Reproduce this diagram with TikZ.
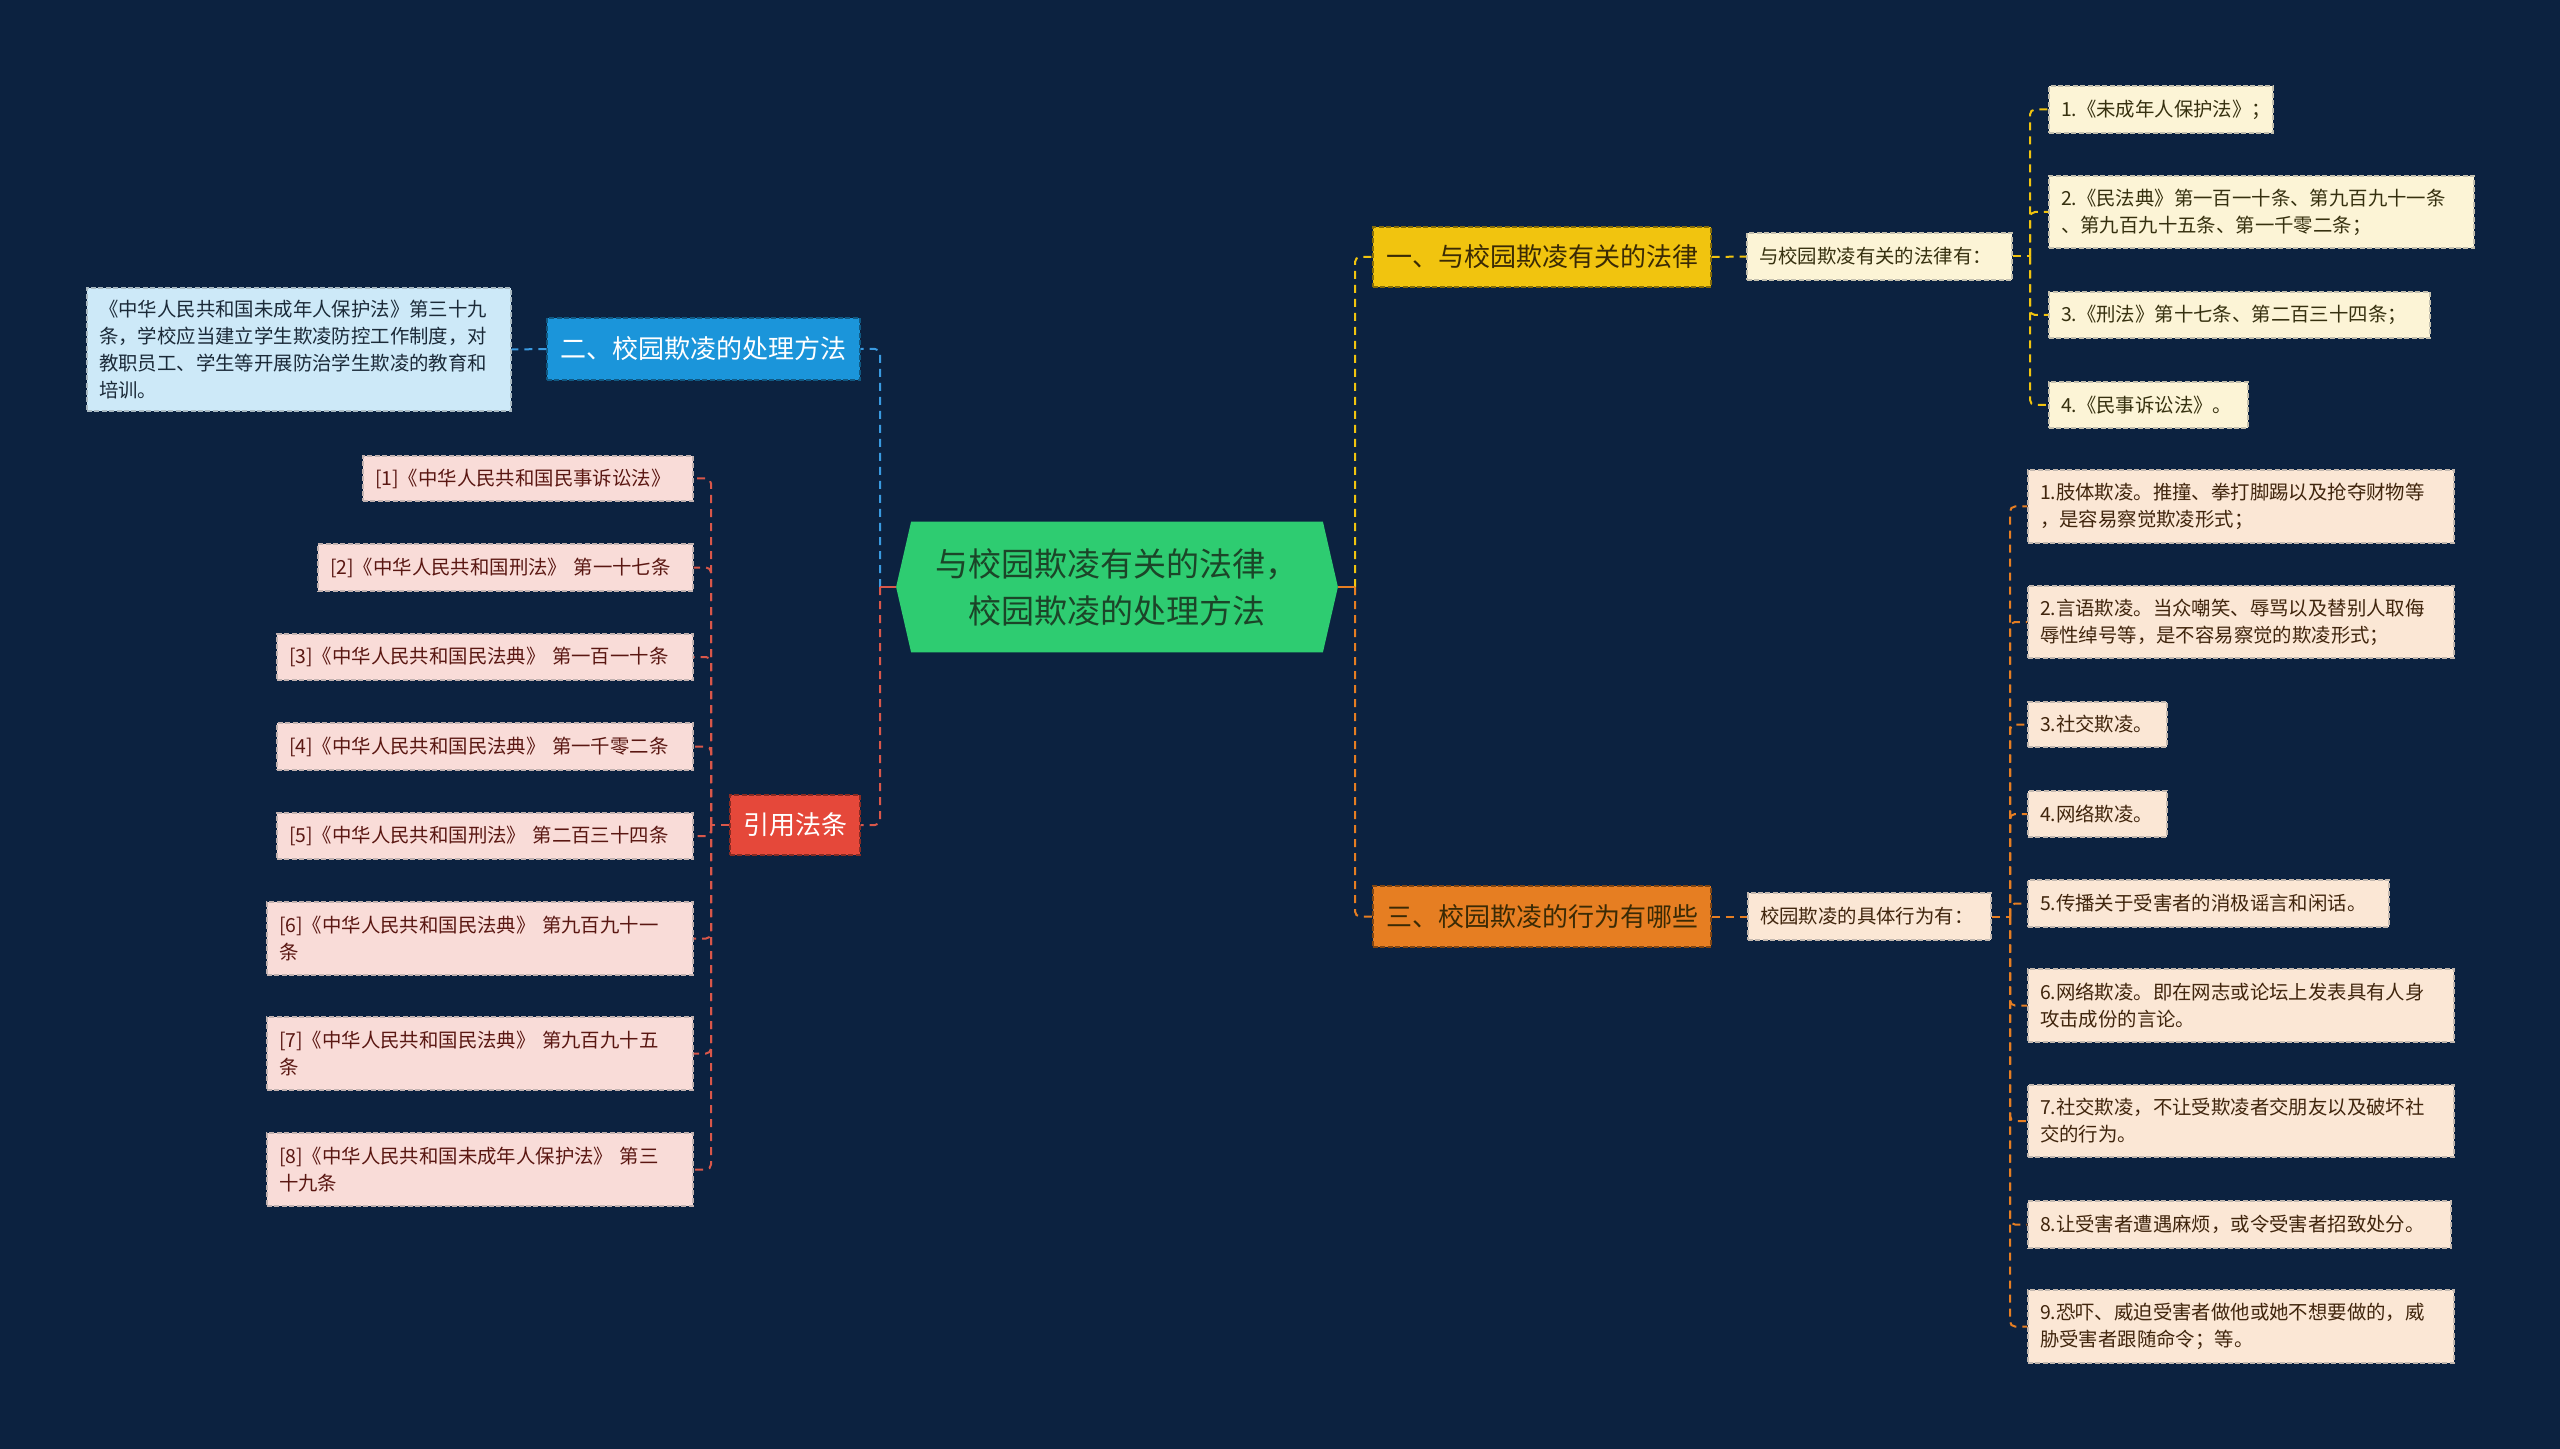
\documentclass[tikz,border=0pt]{standalone}
\usepackage{fontspec}
\setmainfont{Noto Sans CJK SC}
\usetikzlibrary{backgrounds,calc}
\definecolor{bg}{HTML}{0C2240}
\definecolor{rootgreen}{HTML}{2ECC71}
\definecolor{roottext}{HTML}{1B4528}
\definecolor{blueone}{HTML}{1B95DA}
\definecolor{blueleaf}{HTML}{CDE9F8}
\definecolor{bluelinkc}{HTML}{3A9AE0}
\definecolor{redone}{HTML}{E5483A}
\definecolor{redleaf}{HTML}{F9DCD8}
\definecolor{redlinkc}{HTML}{D9574A}
\definecolor{redtext}{HTML}{5A1712}
\definecolor{yellowone}{HTML}{F1C40F}
\definecolor{yellowleaf}{HTML}{FCF4D6}
\definecolor{yellowlinkc}{HTML}{F1C40F}
\definecolor{yellowtext}{HTML}{36300F}
\definecolor{orangeone}{HTML}{E67E22}
\definecolor{orangeleaf}{HTML}{FBE7D5}
\definecolor{orangelinkc}{HTML}{E67E22}
\definecolor{orangetext}{HTML}{40250D}
\definecolor{darktext}{HTML}{3A2A05}
\definecolor{desctext}{HTML}{1B2A38}
\begin{document}
\begin{tikzpicture}[x=0.5pt,y=-0.5pt,
  boxbase/.style={rectangle, inner xsep=6pt, inner ysep=0pt,
    dash pattern=on 2.5pt off 1.2pt, line width=0.6pt},
  leaf/.style={boxbase, align=left, font=\fontsize{9.7}{13.5}\selectfont},
  yleaf/.style={leaf, fill=yellowleaf, draw=yellowleaf!55!gray, text=yellowtext},
  oleaf/.style={leaf, fill=orangeleaf, draw=orangeleaf!55!gray, text=orangetext},
  rleaf/.style={leaf, fill=redleaf, draw=redleaf!55!gray, text=redtext},
  bleaf/.style={leaf, fill=blueleaf, draw=blueleaf!55!gray, text=desctext},
  topic/.style={boxbase, inner xsep=0pt, align=center, font=\fontsize{13}{16}\selectfont},
  link/.style={line width=1pt, dash pattern=on 4pt off 3pt, rounded corners=2.5pt},
  stub/.style={line width=1pt},
]
\useasboundingbox (0,0) rectangle (2560,1449);

% root
\node[rectangle, inner sep=0pt, minimum width=220.5pt, minimum height=65pt] (root) at (1117,587) {};
\node[align=center, text=roottext, font=\fontsize{16.5}{23.5}\selectfont] (roottext) at (root.center) {与校园欺凌有关的法律，\\校园欺凌的处理方法};

\begin{scope}[on background layer]
  \fill[bg] (0,0) rectangle (2560,1449);
  \fill[rootgreen] (root.west) -- ([xshift=7.5pt]root.north west) -- ([xshift=-7.5pt]root.north east)
     -- (root.east) -- ([xshift=-7.5pt]root.south east) -- ([xshift=7.5pt]root.south west) -- cycle;
\end{scope}

% junctions
\coordinate (jl) at (880,587);
\coordinate (jr) at (1355,587);
\coordinate (sr) at (711,825);
\coordinate (sy) at (2030,256.5);
\coordinate (so) at (2010,916.5);

% level 1
\node[topic, fill=blueone, draw=blueone!60!black, text=white, minimum width=156.5pt, minimum height=31pt] (sec2) at (703.5,349) {二、校园欺凌的处理方法};
\node[topic, fill=redone, draw=redone!60!black, text=white, minimum width=65pt, minimum height=30pt] (cite) at (795,825) {引用法条};
\node[topic, fill=yellowone, draw=yellowone!55!black, text=darktext, minimum width=169pt, minimum height=30pt] (sec1) at (1542,257) {一、与校园欺凌有关的法律};
\node[topic, fill=orangeone, draw=orangeone!55!black, text=darktext, minimum width=169pt, minimum height=30.5pt] (sec3) at (1542,916.5) {三、校园欺凌的行为有哪些};

% level 2
\node[bleaf, text width=200pt, minimum width=212pt, minimum height=61.5pt] (desc) at (299,349.5) {《中华人民共和国未成年人保护法》第三十九\\条，学校应当建立学生欺凌防控工作制度，对\\教职员工、学生等开展防治学生欺凌的教育和\\培训。};
\node[yleaf, text width=120.5pt, minimum width=132.5pt, minimum height=23.5pt] (cream1) at (1879.5,256.5) {与校园欺凌有关的法律有：};
\node[oleaf, text width=109.5pt, minimum width=121.5pt, minimum height=23.5pt] (cream2) at (1869.5,916.5) {校园欺凌的具体行为有：};

% yellow leaves
\node[yleaf, text width=100pt, minimum width=112pt, minimum height=23.5pt] (y1) at (2161,109.5) {1.《未成年人保护法》；};
\node[yleaf, text width=200.5pt, minimum width=212.5pt, minimum height=36pt] (y2) at (2261.5,212) {2.《民法典》第一百一十条、第九百九十一条\\、第九百九十五条、第一千零二条；};
\node[yleaf, text width=178.5pt, minimum width=190.5pt, minimum height=23pt] (y3) at (2239.5,315) {3.《刑法》第十七条、第二百三十四条；};
\node[yleaf, text width=87.5pt, minimum width=99.5pt, minimum height=23pt] (y4) at (2148.5,405) {4.《民事诉讼法》。};

% orange leaves
\node[oleaf, text width=201pt, minimum width=213pt, minimum height=36.5pt] (o1) at (2241,506.5) {1.肢体欺凌。推撞、拳打脚踢以及抢夺财物等\\，是容易察觉欺凌形式；};
\node[oleaf, text width=201pt, minimum width=213pt, minimum height=36pt] (o2) at (2241,622) {2.言语欺凌。当众嘲笑、辱骂以及替别人取侮\\辱性绰号等，是不容易察觉的欺凌形式；};
\node[oleaf, text width=57.5pt, minimum width=69.5pt, minimum height=22.5pt] (o3) at (2097.5,724.5) {3.社交欺凌。};
\node[oleaf, text width=57.5pt, minimum width=69.5pt, minimum height=23pt] (o4) at (2097.5,814) {4.网络欺凌。};
\node[oleaf, text width=168.5pt, minimum width=180.5pt, minimum height=23.5pt] (o5) at (2208.5,903.5) {5.传播关于受害者的消极谣言和闲话。};
\node[oleaf, text width=201pt, minimum width=213pt, minimum height=36.5pt] (o6) at (2241,1005.5) {6.网络欺凌。即在网志或论坛上发表具有人身\\攻击成份的言论。};
\node[oleaf, text width=201pt, minimum width=213pt, minimum height=36pt] (o7) at (2241,1121) {7.社交欺凌，不让受欺凌者交朋友以及破坏社\\交的行为。};
\node[oleaf, text width=199.5pt, minimum width=211.5pt, minimum height=23.5pt] (o8) at (2239.5,1224.5) {8.让受害者遭遇麻烦，或令受害者招致处分。};
\node[oleaf, text width=201pt, minimum width=213pt, minimum height=36.5pt] (o9) at (2241,1326.5) {9.恐吓、威迫受害者做他或她不想要做的，威\\胁受害者跟随命令；等。};

% red leaves
\node[rleaf, text width=153pt, minimum width=165pt, minimum height=22.5pt] (r1) at (528,478.5) {[1]《中华人民共和国民事诉讼法》};
\node[rleaf, text width=175.5pt, minimum width=187.5pt, minimum height=23.5pt] (r2) at (505.5,567.5) {[2]《中华人民共和国刑法》~第一十七条};
\node[rleaf, text width=196pt, minimum width=208pt, minimum height=23pt] (r3) at (485,657) {[3]《中华人民共和国民法典》~第一百一十条};
\node[rleaf, text width=196pt, minimum width=208pt, minimum height=23.5pt] (r4) at (485,746.5) {[4]《中华人民共和国民法典》~第一千零二条};
\node[rleaf, text width=196pt, minimum width=208pt, minimum height=23pt] (r5) at (485,836) {[5]《中华人民共和国刑法》~第二百三十四条};
\node[rleaf, text width=201pt, minimum width=213pt, minimum height=36.5pt] (r6) at (480,938.5) {[6]《中华人民共和国民法典》~第九百九十一\\条};
\node[rleaf, text width=201pt, minimum width=213pt, minimum height=36.5pt] (r7) at (480,1053.5) {[7]《中华人民共和国民法典》~第九百九十五\\条};
\node[rleaf, text width=201pt, minimum width=213pt, minimum height=36.5pt] (r8) at (480,1169.5) {[8]《中华人民共和国未成年人保护法》~第三\\十九条};

% connectors: left
\draw[link, bluelinkc] (jl) |- (sec2.east);
\draw[link, bluelinkc] (sec2.west) -- (desc.east);
\draw[link, redlinkc] (jl) |- (cite.east);
\draw[stub, redlinkc] (root.west) -- (jl);
\draw[link, redlinkc] (cite.west) -- (sr);
\foreach \n in {r1,r2,r3,r4,r5,r6,r7,r8}
  \draw[link, redlinkc] (sr) |- (\n.east);

% connectors: right
\draw[link, yellowlinkc] (jr) |- (sec1.west);
\draw[link, orangelinkc] (jr) |- (sec3.west);
\draw[stub, orangelinkc] (root.east) -- (jr);
\draw[link, yellowlinkc] (sec1.east) -- (cream1.west);
\draw[link, yellowlinkc] (cream1.east) -- (sy);
\foreach \n in {y1,y2,y3,y4}
  \draw[link, yellowlinkc] (sy) |- (\n.west);
\draw[link, orangelinkc] (sec3.east) -- (cream2.west);
\draw[link, orangelinkc] (cream2.east) -- (so);
\foreach \n in {o1,o2,o3,o4,o5,o6,o7,o8,o9}
  \draw[link, orangelinkc] (so) |- (\n.west);
\end{tikzpicture}
\end{document}
